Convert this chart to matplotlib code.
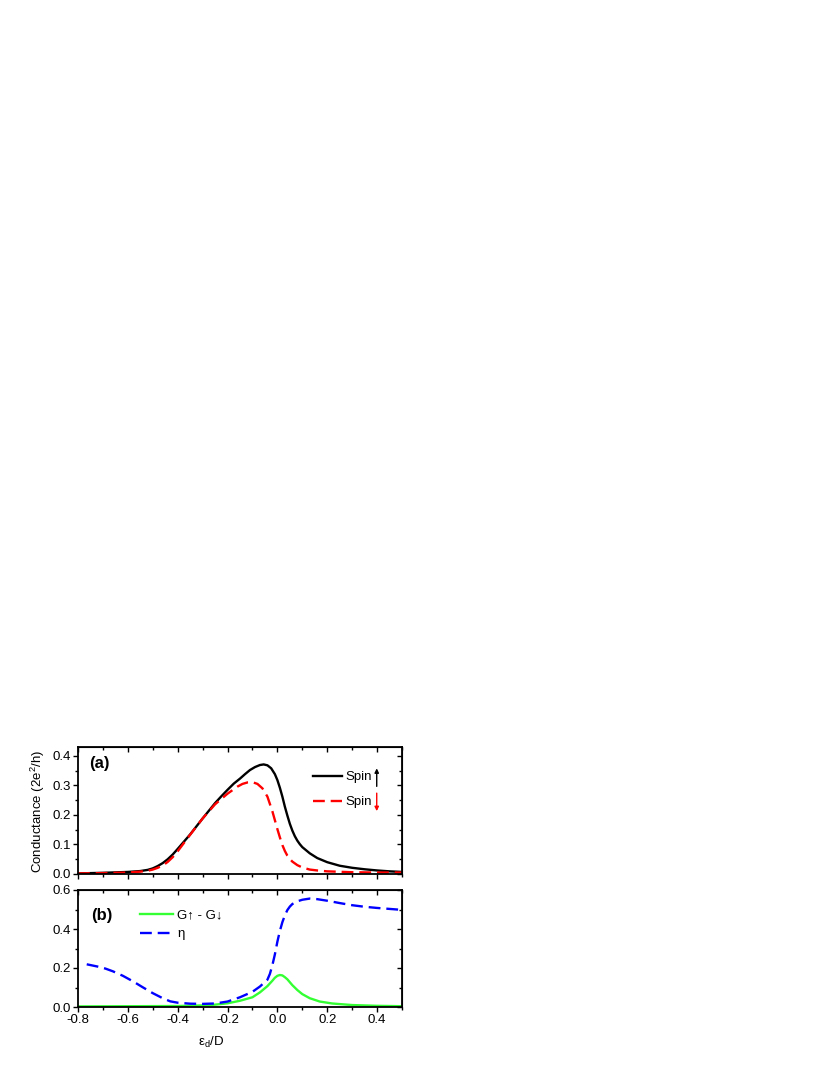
import numpy as np
import matplotlib
matplotlib.use("Agg")
import matplotlib.pyplot as plt
from matplotlib.ticker import MultipleLocator

plt.rcParams['font.family'] = ['Liberation Sans', 'DejaVu Sans']
plt.rcParams['mathtext.fontset'] = 'custom'
plt.rcParams['mathtext.rm'] = 'Liberation Sans'
plt.rcParams['mathtext.it'] = 'Liberation Sans:italic'
plt.rcParams['mathtext.bf'] = 'Liberation Sans:bold'
plt.rcParams['axes.unicode_minus'] = False

# panel (a): spin resolved conductance
x_up = [-0.8, -0.7, -0.6, -0.55, -0.52, -0.5, -0.48, -0.46, -0.44, -0.42, -0.4, -0.35,
        -0.3, -0.25, -0.225, -0.2, -0.175, -0.15, -0.13, -0.11, -0.09, -0.07, -0.055, -0.04, -0.025,
        -0.01, 0.0, 0.01, 0.02, 0.03, 0.04, 0.05, 0.06, 0.07, 0.08, 0.09, 0.1, 0.13,
        0.16, 0.2, 0.25, 0.3, 0.35, 0.4, 0.45, 0.5]
g_up = [0.002, 0.004, 0.007, 0.010, 0.014, 0.019, 0.027, 0.037, 0.050, 0.066, 0.085, 0.134,
        0.188, 0.240, 0.263, 0.285, 0.306, 0.323, 0.338, 0.352, 0.362, 0.369, 0.371, 0.368, 0.358,
        0.338, 0.318, 0.292, 0.262, 0.228, 0.198, 0.170, 0.147, 0.128, 0.113, 0.101, 0.091, 0.070,
        0.054, 0.040, 0.028, 0.021, 0.016, 0.012, 0.009, 0.007]

x_dn = [-0.8, -0.7, -0.6, -0.55, -0.52, -0.5, -0.48, -0.46, -0.44, -0.42, -0.4, -0.35,
        -0.3, -0.25, -0.2, -0.16, -0.14, -0.12, -0.1, -0.08, -0.06, -0.04, -0.02, -0.01,
        0.0, 0.01, 0.02, 0.03, 0.04, 0.05, 0.06, 0.08, 0.1, 0.13, 0.16, 0.2, 0.3, 0.4, 0.5]
g_dn = [0.002, 0.003, 0.005, 0.008, 0.011, 0.015, 0.021, 0.029, 0.041, 0.057, 0.077, 0.133,
        0.188, 0.236, 0.272, 0.296, 0.305, 0.310, 0.311, 0.305, 0.290, 0.262, 0.212, 0.182,
        0.152, 0.124, 0.098, 0.078, 0.062, 0.051, 0.042, 0.030, 0.022, 0.015,
        0.012, 0.009, 0.006, 0.005, 0.005]

# panel (b): difference and polarization
x_diff = [-0.8, -0.6, -0.4, -0.3, -0.25, -0.2, -0.15, -0.1, -0.07, -0.04, -0.02, -0.01, 0.0,
          0.01, 0.02, 0.03, 0.04, 0.05, 0.06, 0.08, 0.1, 0.13, 0.17, 0.22, 0.3, 0.4, 0.5]
g_diff = [0.003, 0.004, 0.005, 0.008, 0.012, 0.019, 0.032, 0.050, 0.075, 0.107, 0.135, 0.150, 0.160,
          0.164, 0.162, 0.153, 0.142, 0.127, 0.112, 0.087, 0.066, 0.045, 0.028, 0.018, 0.010, 0.006, 0.004]

x_eta = [-0.765, -0.72, -0.69, -0.66, -0.62, -0.58, -0.54, -0.5, -0.46, -0.43, -0.4, -0.35, -0.3,
         -0.25, -0.2, -0.15, -0.1, -0.07, -0.04, -0.03, -0.02, -0.01, 0.0, 0.01, 0.02, 0.03,
         0.04, 0.05, 0.06, 0.08, 0.1, 0.13, 0.16, 0.2, 0.25, 0.3, 0.35, 0.4, 0.45, 0.5]
eta = [0.219, 0.207, 0.197, 0.183, 0.160, 0.132, 0.101, 0.071, 0.045, 0.029, 0.022, 0.017, 0.016,
       0.018, 0.028, 0.050, 0.078, 0.105, 0.140, 0.170, 0.215, 0.270, 0.335, 0.390, 0.435, 0.470,
       0.497, 0.515, 0.528, 0.542, 0.550, 0.556, 0.553, 0.545, 0.533, 0.522, 0.514, 0.508, 0.503, 0.498]

fig = plt.figure(figsize=(8.3, 10.75), dpi=100)
ax1 = fig.add_axes([78 / 830, 1 - 874 / 1075, 324 / 830, 127 / 1075])
ax2 = fig.add_axes([78 / 830, 1 - 1007 / 1075, 324 / 830, 117 / 1075])

lw = 1.7
ax1.plot(x_up, g_up, color='black', lw=lw, label='Spin')
ax1.plot(x_dn, g_dn, color='red', lw=lw, dashes=(5, 2.5), label='Spin')
ax2.plot(x_diff, g_diff, color='#33ff33', lw=lw, label='G↑ - G↓')
ax2.plot(x_eta, eta, color='#0000ff', lw=lw, dashes=(5, 2.5), label='η')

ax1.set_ylim(0, 0.43)
ax2.set_ylim(0, 0.6)
ax1.yaxis.set_major_locator(MultipleLocator(0.1))
ax1.yaxis.set_minor_locator(MultipleLocator(0.05))
ax2.yaxis.set_major_locator(MultipleLocator(0.2))
ax2.yaxis.set_minor_locator(MultipleLocator(0.1))

fs = 9.5
for ax in (ax1, ax2):
    ax.set_xlim(-0.8, 0.5)
    ax.xaxis.set_major_locator(MultipleLocator(0.2))
    ax.xaxis.set_minor_locator(MultipleLocator(0.1))
    ax.tick_params(which='both', direction='out', labelsize=fs, width=1.0, pad=1.5)
    ax.tick_params(which='major', length=3.5)
    ax.tick_params(which='minor', length=2)
    for s in ax.spines.values():
        s.set_linewidth(1.3)
    # mirrored ticks pointing inward
    top = ax.secondary_xaxis('top')
    top.xaxis.set_major_locator(MultipleLocator(0.2))
    top.xaxis.set_minor_locator(MultipleLocator(0.1))
    top.tick_params(which='both', direction='in', labeltop=False, width=1.0)
    top.tick_params(which='major', length=3.5)
    top.tick_params(which='minor', length=2)
    right = ax.secondary_yaxis('right')
    right.yaxis.set_major_locator(ax.yaxis.get_major_locator())
    right.yaxis.set_minor_locator(ax.yaxis.get_minor_locator())
    right.tick_params(which='both', direction='in', labelright=False, width=1.0)
    right.tick_params(which='major', length=3.5)
    right.tick_params(which='minor', length=2)

ax1.tick_params(labelbottom=False)
ax1.yaxis.set_major_formatter(plt.FuncFormatter(lambda v, p: f"{v:.1f}"))
ax2.yaxis.set_major_formatter(plt.FuncFormatter(lambda v, p: f"{v:.1f}"))

ax1.set_ylabel(r'Conductance (2e$^2$/h)', fontsize=fs)
ax1.yaxis.set_label_coords(-0.096, 0.49)
ax2.set_xlabel(r'ε$_\mathrm{d}$/D', fontsize=fs)
ax2.xaxis.set_label_coords(0.41, -0.24)

ax1.text(0.035, 0.87, '(a)', transform=ax1.transAxes, fontsize=12, fontweight='bold', va='center')
ax2.text(0.04, 0.78, '(b)', transform=ax2.transAxes, fontsize=12, fontweight='bold', va='center')

leg1 = ax1.legend(loc='upper left', bbox_to_anchor=(0.725, 0.81), frameon=False, fontsize=fs,
                  handlelength=2.2, handletextpad=0.25, labelspacing=0.95, borderpad=0, borderaxespad=0)
leg2 = ax2.legend(loc='upper left', bbox_to_anchor=(0.19, 0.835), frameon=False, fontsize=fs,
                  handlelength=2.5, handletextpad=0.35, labelspacing=0.5, borderpad=0, borderaxespad=0)

# spin arrows after the legend labels
fig.canvas.draw()
renderer = fig.canvas.get_renderer()
arrow_colors = ['black', 'red']
for txt, col, up in zip(leg1.get_texts(), arrow_colors, [True, False]):
    bb = txt.get_window_extent(renderer)
    xa = bb.x1 + 5
    y0, y1 = bb.y0 - 3, bb.y1 + 3
    if not up:
        y0, y1 = y1, y0
    ax1.annotate('', xy=(xa, y1), xytext=(xa, y0), xycoords='figure pixels',
                 textcoords='figure pixels',
                 arrowprops=dict(arrowstyle='-|>', color=col, lw=1.0, mutation_scale=6,
                                 shrinkA=0, shrinkB=0))

fig.savefig('out.png', dpi=100)
